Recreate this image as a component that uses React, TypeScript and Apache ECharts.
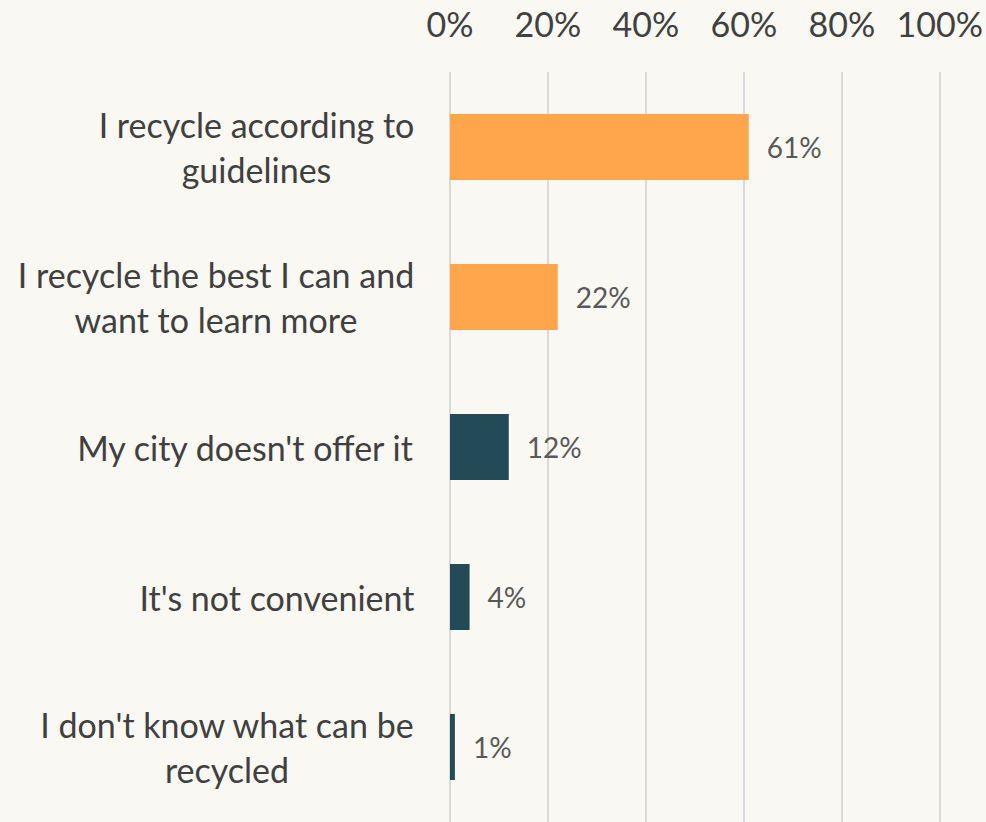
import React, { useEffect, useRef } from "react";
import * as echarts from "echarts";

const categories = [
  "I recycle according to\nguidelines",
  "I recycle the best I can and\nwant to learn more",
  "My city doesn't offer it",
  "It's not convenient",
  "I don't know what can be\nrecycled",
];
const values = [61, 22, 12, 4, 1];
const barColors = ["#FFA64D", "#FFA64D", "#234B57", "#234B57", "#234B57"];
const axisTicks = [0, 20, 40, 60, 80, 100];

const FONT = "Lato, 'Noto Sans', sans-serif";
const CAT_SIZE = 34;

function measure(text: string): number {
  const c = document.createElement("canvas").getContext("2d")!;
  c.font = `${CAT_SIZE}px ${FONT}`;
  return Math.ceil(c.measureText(text).width) + 1;
}

export default function App() {
  const ref = useRef<HTMLDivElement>(null);
  useEffect(() => {
    document.body.style.margin = "0";
    const chart = echarts.init(ref.current!, undefined, { renderer: "svg" });
    const rich: Record<string, any> = {};
    categories.forEach((cat, i) => {
      const w = Math.max(...cat.split("\n").map(measure));
      rich["l" + i] = {
        width: w,
        align: "center",
        fontSize: CAT_SIZE,
        lineHeight: 45,
        color: "#404040",
        fontFamily: FONT,
      };
    });
    chart.setOption({
      animation: false,
      backgroundColor: "#FAF8F2",
      grid: { left: 450, right: 44, top: 72, bottom: 0, containLabel: false },
      xAxis: {
        type: "value",
        position: "top",
        min: axisTicks[0],
        max: axisTicks[axisTicks.length - 1],
        interval: 20,
        axisLine: { show: false },
        axisTick: { show: false },
        axisLabel: {
          formatter: "{value}%",
          fontSize: 34,
          color: "#404040",
          fontFamily: FONT,
          margin: 32,
        },
        splitLine: { show: true, lineStyle: { color: "#D9D9D9", width: 2 } },
      },
      yAxis: {
        type: "category",
        inverse: true,
        data: categories,
        axisLine: { show: false },
        axisTick: { show: false },
        axisLabel: {
          fontSize: CAT_SIZE,
          color: "#404040",
          fontFamily: FONT,
          margin: 35,
          align: "right",
          lineHeight: 45,
          formatter: (value: string, index: number) =>
            value
              .split("\n")
              .map((l) => `{l${index}|${l}}`)
              .join("\n"),
          rich,
        },
      },
      series: [
        {
          type: "bar",
          barWidth: "44%",
          data: values.map((v, i) => ({ value: v, itemStyle: { color: barColors[i] } })),
          label: {
            show: true,
            position: "right",
            distance: 18,
            formatter: "{c}%",
            fontSize: 28,
            color: "#595959",
            fontFamily: FONT,
          },
        },
      ],
    });
    return () => chart.dispose();
  }, []);
  return <div ref={ref} style={{ width: 986, height: 822 }} />;
}
